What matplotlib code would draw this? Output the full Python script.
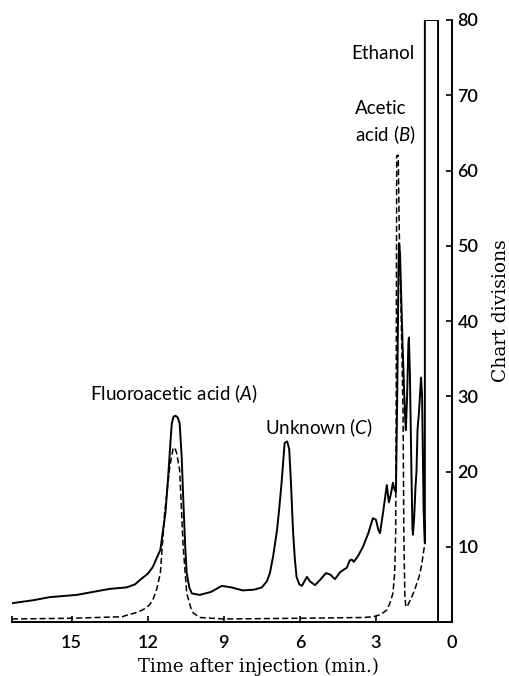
import matplotlib
matplotlib.use("Agg")
import matplotlib.pyplot as plt

# solid trace (time after injection in min, chart divisions)
solid_t = [17.35, 16.5, 15.87, 14.8, 13.5, 12.83, 12.5, 12.3, 12.0, 11.8, 11.5, 11.3, 11.2,
           11.1, 11.05, 10.98, 10.9, 10.82, 10.74, 10.66, 10.6, 10.52, 10.46, 10.36, 10.26,
           9.95, 9.5, 9.08, 8.7, 8.25, 7.8, 7.5, 7.3, 7.18, 7.05, 6.9, 6.8, 6.71, 6.6, 6.5,
           6.42, 6.35, 6.27, 6.2, 6.13, 6.02, 5.92, 5.82, 5.72, 5.6, 5.4, 5.2, 4.97, 4.8,
           4.62, 4.5, 4.42, 4.25, 4.15, 4.03, 3.95, 3.87, 3.7, 3.51, 3.3, 3.12, 3.0, 2.9,
           2.84, 2.72, 2.57, 2.49, 2.41, 2.33, 2.27, 2.21, 2.16, 2.11, 2.09, 2.05, 1.95,
           1.86, 1.82, 1.77, 1.72, 1.70, 1.66, 1.6, 1.56, 1.54, 1.49, 1.44, 1.40, 1.36,
           1.30, 1.22, 1.18, 1.12, 1.07, 1.07, 0.55, 0.55]
solid_v = [2.5, 2.9, 3.3, 3.6, 4.4, 4.6, 5.0, 5.6, 6.4, 7.3, 9.6, 14.5, 18.9,
           24.0, 26.4, 27.3, 27.4, 27.2, 26.4, 22.0, 16.6, 10.0, 6.5, 4.6, 3.8,
           3.6, 4.0, 4.8, 4.6, 4.2, 4.3, 4.6, 5.4, 6.5, 8.8, 12.2, 15.5, 18.9, 23.8, 24.0,
           23.0, 18.5, 12.2, 8.5, 6.0, 5.0, 4.8, 5.4, 6.0, 5.4, 4.9, 5.6, 6.5, 6.3,
           5.7, 6.2, 6.6, 7.0, 7.2, 8.2, 8.3, 8.0, 8.8, 10.0, 11.8, 13.8, 13.6, 12.2,
           11.8, 14.5, 18.2, 15.9, 17.0, 18.5, 17.6, 17.3, 30.0, 47.0, 50.3, 49.0, 37.0,
           28.0, 25.5, 30.0, 37.0, 37.8, 33.0, 20.0, 12.5, 11.6, 14.0, 17.9, 20.0, 25.5,
           28.0, 32.5, 30.0, 15.0, 10.5, 80.0, 80.0, 0.0]

# dashed trace
dashed_t = [17.35, 15.0, 13.0, 12.83, 12.5, 12.2, 11.95, 11.8, 11.65, 11.5, 11.33, 11.13,
            11.0, 10.94, 10.86, 10.74, 10.6, 10.46, 10.3, 10.2, 9.95, 9.0, 6.0, 3.5, 3.1,
            2.8, 2.57, 2.45, 2.33, 2.26, 2.22, 2.20, 2.18, 2.12, 2.08, 2.0, 1.93, 1.9,
            1.86, 1.82, 1.75, 1.6, 1.45, 1.3, 1.2, 1.07]
dashed_v = [0.4, 0.5, 0.7, 0.9, 1.2, 1.6, 2.2, 2.9, 4.3, 6.5, 14.5, 20.6,
            23.0, 23.2, 22.5, 20.2, 10.0, 3.8, 1.9, 1.2, 0.6, 0.4, 0.5, 0.6, 0.7,
            1.0, 1.6, 2.5, 3.8, 6.5, 12.0, 30.0, 62.0, 62.0, 52.0, 40.0, 28.0, 12.0,
            3.5, 2.0, 2.2, 3.2, 4.5, 6.0, 7.5, 10.5]

x_ticks = [0, 3, 6, 9, 12, 15]
y_ticks = [10, 20, 30, 40, 50, 60, 70, 80]

plt.rcParams['mathtext.fontset'] = 'custom'
plt.rcParams['mathtext.rm'] = 'Lato'
plt.rcParams['mathtext.it'] = 'Lato:italic'

fig = plt.figure(figsize=(5.09, 6.76), dpi=100)
ax = fig.add_axes([12 / 509, 1 - 622 / 676, 440 / 509, 602 / 676])

ax.plot(solid_t, solid_v, color='black', linewidth=1.4, solid_joinstyle='round')
ax.plot(dashed_t, dashed_v, color='black', linewidth=1.1, linestyle=(0, (4, 2)))

ax.set_xlim(17.35, 0)
ax.set_ylim(0, 80)

for s in ['left', 'top']:
    ax.spines[s].set_visible(False)
for s in ['bottom', 'right']:
    ax.spines[s].set_linewidth(1.4)

ax.yaxis.tick_right()
ax.yaxis.set_label_position('right')
ax.set_xticks(x_ticks)
ax.set_xticks([17.35], minor=True)
ax.set_yticks(y_ticks)
ax.tick_params(axis='x', which='both', direction='in', length=4, width=1.2, pad=9, labelsize=13)
ax.tick_params(axis='y', direction='in', length=4, width=1.2, pad=4, labelsize=13)
for lab in ax.get_xticklabels() + ax.get_yticklabels():
    lab.set_fontfamily('Lato')
    lab.set_fontweight('semibold')

ax.set_xlabel('Time after injection (min.)', family='DejaVu Serif', fontsize=13, va='center')
ax.xaxis.set_label_coords(0.559, -0.075)
ax.set_ylabel('Chart divisions', family='DejaVu Serif', fontsize=13.5, va='center', rotation=90)
ax.yaxis.set_label_coords(1.111, 0.518)

txt = dict(fontsize=13.5, family='Lato', color='black')
ax.text(2.72, 75.6, 'Ethanol', ha='center', va='center', **txt)
ax.text(3.83, 66.3, 'Acetic\nacid $(B)$', ha='left', va='center', linespacing=1.35, **txt)
ax.text(14.29, 30.4, 'Fluoroacetic acid $(A)$', ha='left', va='center', **txt)
ax.text(7.38, 25.8, 'Unknown $(C)$', ha='left', va='center', **txt)

fig.savefig('out.png', dpi=100)
